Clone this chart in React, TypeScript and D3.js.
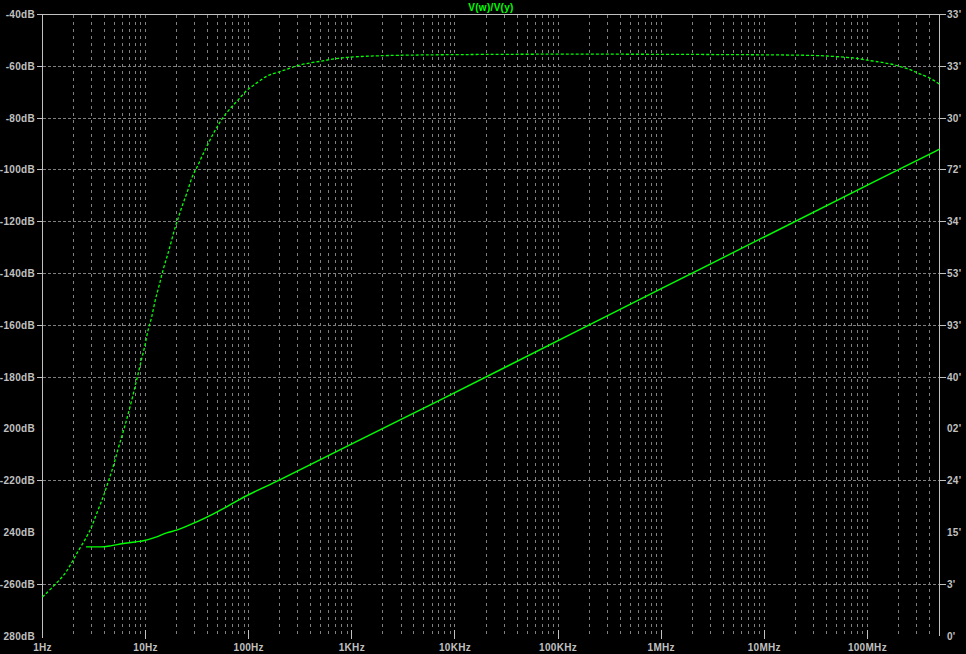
import React from "react";
import * as d3 from "d3";

// ---- axis ticks & labels ----
const FREQ_DECADES = [1, 10, 100, 1e3, 1e4, 1e5, 1e6, 1e7, 1e8];
const FREQ_LABELS = ["1Hz", "10Hz", "100Hz", "1KHz", "10KHz", "100KHz", "1MHz", "10MHz", "100MHz"];
const DB_TICKS = [-40, -60, -80, -100, -120, -140, -160, -180, -200, -220, -240, -260, -280];
const DB_LABELS = ["-40dB", "-60dB", "-80dB", "-100dB", "-120dB", "-140dB", "-160dB", "-180dB", "200dB", "-220dB", "240dB", "-260dB", "280dB"];
const DB_NO_GRID = [-200, -240, -280];
const PHASE_TICKS = [360, 330, 300, 270, 240, 210, 180, 150, 120, 90, 60, 30, 0];
const PHASE_LABELS = ["33'", "33'", "30'", "72'", "34'", "53'", "93'", "40'", "02'", "24'", "15'", "3'", "0'"];
const TITLE = "V(w)/V(y)";

// ---- magnitude trace (left axis, dB) ----
const magFreq = [2.64, 3.7, 4.7, 5.9, 7.9, 9.5, 12.8, 16, 20, 31.3, 45, 61, 82, 200, 1000, 7150, 1e6, 1.32e8, 5e8];
const magDb = [-245.6, -245.6, -245.1, -244.4, -243.7, -243.2, -241.7, -240.2, -239.1, -235.9, -232.9, -230.1, -227.2, -219.7, -205.8, -188.9, -145.9, -103.5, -92.0];

// ---- phase trace (right axis) ----
const phaseFreq = [1, 1.41, 1.72, 1.98, 2.31, 2.68, 3.0, 3.23, 3.61, 3.89, 4.19, 4.51, 4.86, 5.36, 5.86, 6.41, 6.79, 7.43, 7.89, 8.49, 9.16, 9.93, 10.47, 11.45, 12.33, 13.48, 14.84, 16.37, 17.9, 19.57, 20.74, 22.68, 25.59, 27.99, 31.28, 34.99, 39.11, 45.32, 50.67, 56.64, 68.35, 79.17, 95.5, 106.8, 133.6, 154.7, 196.6, 234.9, 293.8, 416.9, 509.9, 613.8, 738.8, 891.3, 1291, 2522, 1e4, 1e5, 2.38e6, 2.65e7, 4.02e7, 6.52e7, 8.46e7, 1.057e8, 1.32e8, 1.535e8, 1.848e8, 2.066e8, 2.399e8, 2.78e8, 3.228e8, 4.036e8, 4.86e8, 5e8];
const phaseDeg = [22.6, 31.3, 37.2, 44.0, 51.0, 57.3, 63.1, 68.4, 75.9, 80.7, 86.5, 92.3, 98.1, 107.7, 115.4, 123.2, 129.0, 137.7, 144.4, 152.2, 160.9, 168.6, 177.2, 184.0, 194.6, 202.3, 213.0, 220.7, 229.4, 238.1, 241.9, 249.7, 257.4, 266.0, 270.9, 277.6, 283.4, 291.2, 296.0, 300.8, 306.6, 310.5, 316.3, 318.2, 322.5, 325.0, 326.7, 328.3, 330.5, 332.3, 332.9, 334.0, 334.6, 335.2, 335.8, 336.4, 336.8, 337.1, 336.9, 336.5, 336.0, 335.2, 334.4, 333.2, 332.5, 331.7, 330.9, 329.8, 328.8, 327.4, 325.5, 323.4, 320.1, 319.6];

const W = 966;
const H = 654;
const LEFT = 42.5;
const RIGHT = 939.5;
const TOP = 14.5;
const BOTTOM = 636;

const AXIS = "#c0c0c0";
const GRID = "#808080";
const TRACE = "#00ff00";
const FONT = "'Liberation Sans', Arial, sans-serif";

export default function App() {
  const x = d3.scaleLog().domain([1, 5e8]).range([LEFT, RIGHT]);
  const yDb = d3.scaleLinear().domain([-280, -40]).range([BOTTOM, TOP]);
  const yPh = d3.scaleLinear().domain([0, 360]).range([BOTTOM, TOP]);
  const px = (v: number) => Math.round(v - 0.5) + 0.5;

  const minorFreqs: number[] = [];
  FREQ_DECADES.forEach((d) => {
    for (let k = 1; k <= 9; k++) {
      const f = k * d;
      if (f > 1 && f < 5e8) minorFreqs.push(f);
    }
  });

  const magLine = d3
    .line<number>()
    .x((_, i) => x(magFreq[i]))
    .y((v) => yDb(v))
    .curve(d3.curveMonotoneX);
  const phLine = d3
    .line<number>()
    .x((_, i) => x(phaseFreq[i]))
    .y((v) => yPh(v))
    .curve(d3.curveBasis);

  const textStyle: React.CSSProperties = {
    fontFamily: FONT,
    fontSize: 10,
    fontWeight: "bold",
    letterSpacing: 0.3,
  };

  return (
    <svg
      width={W}
      height={H}
      style={{ position: "fixed", left: 0, top: 0, background: "#000", display: "block" }}
    >
      <rect x={0} y={0} width={W} height={H} fill="#000" />

      {/* vertical grid */}
      <g shapeRendering="crispEdges">
        {minorFreqs.map((f, i) => (
          <line
            key={"v" + i}
            x1={px(x(f))}
            x2={px(x(f))}
            y1={TOP}
            y2={BOTTOM}
            stroke={GRID}
            strokeDasharray="3,4"
          />
        ))}
        {DB_TICKS.filter((t) => t !== -40 && !DB_NO_GRID.includes(t)).map((t, i) => (
          <line
            key={"h" + i}
            x1={LEFT}
            x2={RIGHT}
            y1={px(yDb(t))}
            y2={px(yDb(t))}
            stroke={GRID}
            strokeDasharray="3,2"
          />
        ))}
      </g>

      {/* axes frame */}
      <g shapeRendering="crispEdges" stroke={AXIS}>
        <line x1={LEFT} x2={RIGHT} y1={TOP} y2={TOP} />
        <line x1={LEFT} x2={LEFT} y1={TOP} y2={BOTTOM + 2} />
        <line x1={RIGHT} x2={RIGHT} y1={TOP} y2={BOTTOM} />
        {DB_TICKS.filter((t) => !DB_NO_GRID.includes(t)).map((t, i) => (
          <line key={"lt" + i} x1={LEFT - 6} x2={LEFT} y1={px(yDb(t))} y2={px(yDb(t))} />
        ))}
        {PHASE_TICKS.filter((_, i) => !DB_NO_GRID.includes(DB_TICKS[i])).map((t, i) => (
          <line key={"rt" + i} x1={RIGHT} x2={RIGHT + 6} y1={px(yPh(t))} y2={px(yPh(t))} />
        ))}
        {FREQ_DECADES.slice(1).map((f, i) => (
          <line key={"bt" + i} x1={px(x(f))} x2={px(x(f))} y1={BOTTOM - 6} y2={BOTTOM + 3} />
        ))}
      </g>

      {/* labels */}
      <g fill={AXIS} style={textStyle}>
        {DB_TICKS.map((t, i) => (
          <text key={"ll" + i} x={35} y={yDb(t)} dy="0.36em" textAnchor="end">
            {DB_LABELS[i]}
          </text>
        ))}
        {PHASE_TICKS.map((t, i) => (
          <text key={"rl" + i} x={947} y={yPh(t)} dy="0.36em" textAnchor="start">
            {PHASE_LABELS[i]}
          </text>
        ))}
        {FREQ_DECADES.map((f, i) => (
          <text key={"bl" + i} x={x(f)} y={651} textAnchor="middle">
            {FREQ_LABELS[i]}
          </text>
        ))}
      </g>

      <text
        x={(LEFT + RIGHT) / 2}
        y={11}
        textAnchor="middle"
        fill={TRACE}
        style={textStyle}
      >
        {TITLE}
      </text>

      {/* traces */}
      <path d={phLine(phaseDeg) || ""} fill="none" stroke={TRACE} strokeWidth={1.3} strokeDasharray="3,2" />
      <path d={magLine(magDb) || ""} fill="none" stroke={TRACE} strokeWidth={1.4} />
    </svg>
  );
}
